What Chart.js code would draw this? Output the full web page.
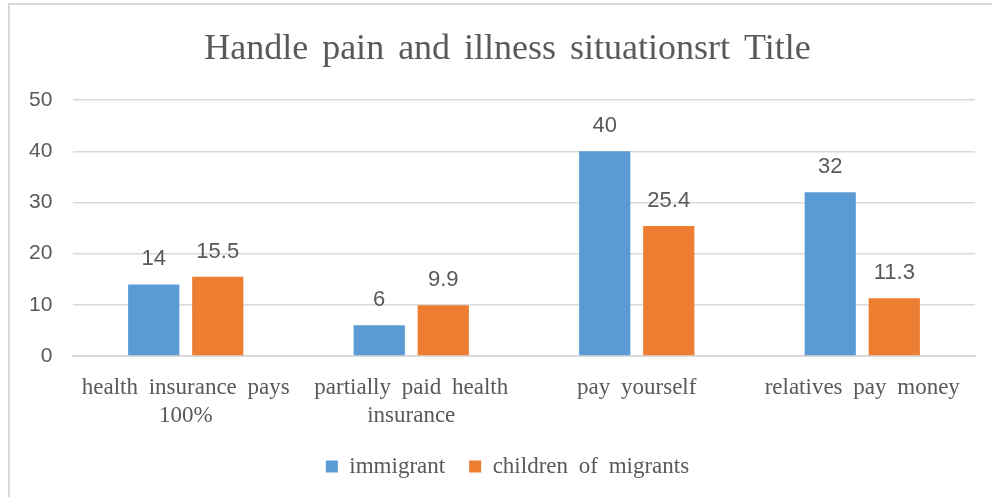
<!DOCTYPE html>
<html lang="en">
<head>
    <meta charset="UTF-8">
    <title>Handle pain and illness situations</title>
    <script src="https://cdn.jsdelivr.net/npm/chart.js@4.4.1/dist/chart.umd.min.js"></script>
    <style>
        body {
            margin: 0;
            padding: 0;
            background-color: #ffffff;
            overflow: hidden;
        }
        .wrap {
            position: relative;
            width: 992px;
            height: 497px;
        }
        .frame {
            position: absolute;
            left: 8px;
            top: 3px;
            width: 1000px;
            height: 510px;
            border: 2px solid #d9d9d9;
            box-sizing: border-box;
            pointer-events: none;
        }
        canvas {
            position: absolute;
            left: 0;
            top: 0;
        }
    </style>
</head>
<body>
    <div class="wrap">
        <canvas id="chart" width="992" height="497"></canvas>
        <div class="frame"></div>
    </div>

    <script>
        // Chart data
        const categories = [
            ['health insurance pays', '100%'],
            ['partially paid health', 'insurance'],
            'pay yourself',
            'relatives pay money'
        ];
        const immigrantValues = [14, 6, 40, 32];
        const childrenValues = [15.5, 9.9, 25.4, 11.3];
        const yTicks = [0, 10, 20, 30, 40, 50];

        const textColor = '#595959';
        const serif = "'Liberation Serif', 'Times New Roman', serif";
        const sans = "'Liberation Sans', Arial, sans-serif";

        // the original has wide word gaps
        const wideWords = {
            id: 'wideWords',
            beforeLayout(chart) { chart.ctx.wordSpacing = '5px'; },
            beforeDraw(chart) { chart.ctx.wordSpacing = '5px'; }
        };

        // Value labels above each bar
        const valueLabels = {
            id: 'valueLabels',
            afterDatasetsDraw(chart) {
                const ctx = chart.ctx;
                ctx.save();
                ctx.fillStyle = textColor;
                ctx.font = '22px ' + sans;
                ctx.textAlign = 'center';
                ctx.textBaseline = 'middle';
                chart.data.datasets.forEach((ds, i) => {
                    chart.getDatasetMeta(i).data.forEach((bar, j) => {
                        ctx.fillText(String(ds.data[j]), bar.x, bar.y - 25);
                    });
                });
                ctx.restore();
            }
        };

        new Chart(document.getElementById('chart'), {
            type: 'bar',
            data: {
                labels: categories,
                datasets: [{
                    label: 'immigrant',
                    data: immigrantValues,
                    backgroundColor: '#5b9bd5',
                    categoryPercentage: 0.568,
                    barPercentage: 0.8
                }, {
                    label: 'children of migrants',
                    data: childrenValues,
                    backgroundColor: '#ed7d31',
                    categoryPercentage: 0.568,
                    barPercentage: 0.8
                }]
            },
            options: {
                responsive: false,
                animation: false,
                layout: {
                    padding: { left: 40, right: 17, top: 0, bottom: 9 }
                },
                plugins: {
                    title: {
                        display: true,
                        text: 'Handle pain and illness situationsrt Title',
                        color: textColor,
                        font: { family: serif, size: 36, weight: 'normal', lineHeight: 1.2 },
                        padding: { top: 28, bottom: 29 }
                    },
                    legend: {
                        position: 'bottom',
                        labels: {
                            color: textColor,
                            font: { family: serif, size: 23 },
                            boxWidth: 12,
                            boxHeight: 12,
                            padding: 24
                        }
                    },
                    tooltip: { enabled: false }
                },
                scales: {
                    x: {
                        grid: { display: false },
                        border: { color: '#d9d9d9', width: 2 },
                        ticks: {
                            color: textColor,
                            font: { family: serif, size: 23, lineHeight: 1.22 },
                            padding: 10,
                            maxRotation: 0
                        },
                        afterFit(scale) { scale.height = 75; }
                    },
                    y: {
                        min: 0,
                        max: 50,
                        border: { display: false },
                        grid: { color: '#d9d9d9', lineWidth: 1.5, drawTicks: false },
                        ticks: {
                            color: textColor,
                            font: { family: sans, size: 21 },
                            mirror: true,
                            crossAlign: 'far',
                            padding: -44,
                            callback: (v) => yTicks.includes(v) ? v : null,
                            stepSize: 10
                        },
                        afterFit(scale) { scale.width = 33; }
                    }
                }
            },
            plugins: [wideWords, valueLabels]
        });
    </script>
</body>
</html>
